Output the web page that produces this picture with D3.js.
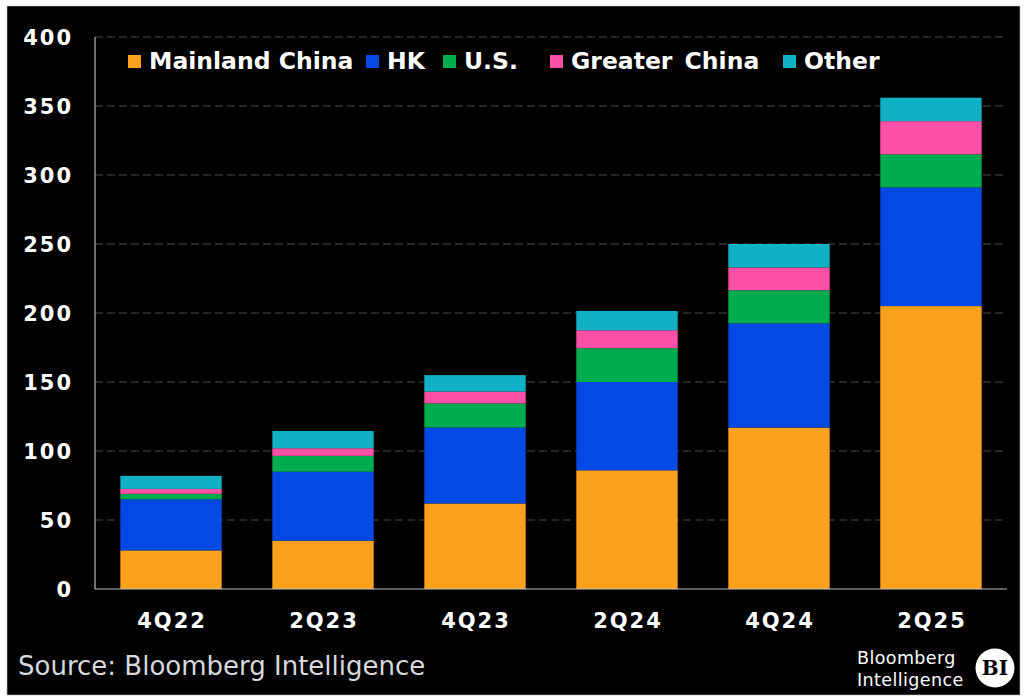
<!DOCTYPE html>
<html>
<head>
<meta charset="utf-8">
<script src="https://cdn.jsdelivr.net/npm/d3@7"></script>
<style>
  body { margin: 0; background: #fff; }
  svg text { font-family: "DejaVu Sans", Verdana, sans-serif; }
</style>
</head>
<body>
<div id="chart"></div>
<script>
const categories = ["4Q22", "2Q23", "4Q23", "2Q24", "4Q24", "2Q25"];
const seriesNames = ["Mainland China", "HK", "U.S.", "Greater China", "Other"];
const mainlandChina = [28, 35, 62, 86, 117, 205];
const hongKong = [37, 50, 55, 64, 75.5, 86];
const unitedStates = [4, 11.5, 17.5, 24.5, 24, 24];
const greaterChina = [3.5, 5.5, 8.5, 13, 16.5, 24];
const other = [9.5, 12.5, 12, 14, 17, 17];
const yTicks = [0, 50, 100, 150, 200, 250, 300, 350, 400];
const seriesColors = ["#FCA11C", "#0449E3", "#00AD4E", "#FF50A8", "#11B1C5"];

const width = 1024;
const height = 700;
const margin = { left: 95, right: 17, top: 37, bottom: 111 };

const svg = d3.select("#chart").append("svg").attr("width", width).attr("height", height);

// black panel with a thin grey edge
svg.append("rect")
  .attr("x", 7).attr("y", 6)
  .attr("width", 1013).attr("height", 689)
  .attr("fill", "#000")
  .attr("stroke", "#bbb")
  .attr("stroke-width", 0.6);

const x = d3.scaleBand()
  .domain(categories)
  .range([margin.left, width - margin.right])
  .paddingInner(0.333)
  .paddingOuter(0.1667);

const y = d3.scaleLinear()
  .domain([0, 400])
  .range([height - margin.bottom, margin.top]);

// dashed grid
svg.append("g")
  .selectAll("line")
  .data(yTicks.filter((d) => d > 0))
  .join("line")
  .attr("x1", margin.left)
  .attr("x2", width - margin.right)
  .attr("y1", (d) => y(d))
  .attr("y2", (d) => y(d))
  .attr("stroke", "#4a4a4a")
  .attr("stroke-width", 1.2)
  .attr("stroke-dasharray", "8,4");

// stack the series
const rows = categories.map((c, i) => ({
  cat: c,
  "Mainland China": mainlandChina[i],
  HK: hongKong[i],
  "U.S.": unitedStates[i],
  "Greater China": greaterChina[i],
  Other: other[i],
}));
const stacked = d3.stack().keys(seriesNames)(rows);

svg.append("g")
  .selectAll("g")
  .data(stacked)
  .join("g")
  .attr("fill", (d, i) => seriesColors[i])
  .selectAll("rect")
  .data((d) => d)
  .join("rect")
  .attr("x", (d) => x(d.data.cat))
  .attr("width", x.bandwidth())
  .attr("y", (d) => y(d[1]))
  .attr("height", (d) => y(d[0]) - y(d[1]));

// axis lines
svg.append("line")
  .attr("x1", margin.left).attr("x2", margin.left)
  .attr("y1", y(400)).attr("y2", y(0))
  .attr("stroke", "#bdbdbd").attr("stroke-width", 1.2);
svg.append("line")
  .attr("x1", margin.left).attr("x2", width - margin.right)
  .attr("y1", y(0)).attr("y2", y(0))
  .attr("stroke", "#bdbdbd").attr("stroke-width", 1.2);

// y tick labels
svg.append("g")
  .selectAll("text")
  .data(yTicks)
  .join("text")
  .attr("x", 73)
  .attr("y", (d) => y(d) + 7.5)
  .attr("text-anchor", "end")
  .attr("fill", "#fff")
  .attr("font-size", 21)
  .attr("font-weight", "bold")
  .attr("letter-spacing", 2)
  .text((d) => d);

// x tick labels
svg.append("g")
  .selectAll("text")
  .data(categories)
  .join("text")
  .attr("x", (d) => x(d) + x.bandwidth() / 2 + 1)
  .attr("y", 628)
  .attr("text-anchor", "middle")
  .attr("fill", "#fff")
  .attr("font-size", 21)
  .attr("font-weight", "bold")
  .attr("letter-spacing", 2)
  .text((d) => d);

// legend
const legendX = [128, 366, 443, 550, 783];
const legend = svg.append("g")
  .selectAll("g")
  .data(seriesNames)
  .join("g")
  .attr("transform", (d, i) => `translate(${legendX[i]},0)`);
legend.append("rect")
  .attr("x", 0).attr("y", 55)
  .attr("width", 13).attr("height", 13)
  .attr("fill", (d, i) => seriesColors[i]);
legend.append("text")
  .attr("x", 21)
  .attr("y", 69)
  .attr("fill", "#fff")
  .attr("font-size", 23.5)
  .attr("font-weight", "bold")
  .attr("word-spacing", (d) => (d === "Greater China" ? 4 : 0))
  .text((d) => d);

// source note
svg.append("text")
  .attr("x", 18)
  .attr("y", 675)
  .attr("fill", "#d6d9dc")
  .attr("font-size", 26)
  .text("Source: Bloomberg Intelligence");

// Bloomberg Intelligence mark
svg.append("text")
  .attr("x", 857).attr("y", 664)
  .attr("fill", "#fff").attr("font-size", 17.5)
  .attr("letter-spacing", 0.4)
  .text("Bloomberg");
svg.append("text")
  .attr("x", 857).attr("y", 686)
  .attr("fill", "#fff").attr("font-size", 17.5)
  .attr("letter-spacing", 0.4)
  .text("Intelligence");
svg.append("circle")
  .attr("cx", 995).attr("cy", 668).attr("r", 19.5)
  .attr("fill", "#fff");
svg.append("text")
  .attr("x", 995).attr("y", 675)
  .attr("text-anchor", "middle")
  .attr("fill", "#000")
  .attr("font-size", 20)
  .attr("font-weight", "bold")
  .style("font-family", "'DejaVu Serif', serif")
  .text("BI");
</script>
</body>
</html>
